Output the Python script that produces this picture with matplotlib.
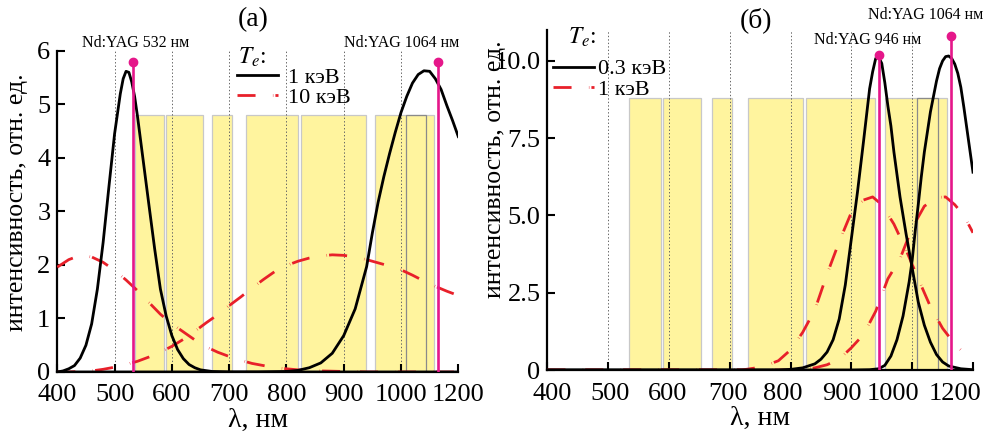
import numpy as np
import matplotlib
matplotlib.use('Agg')
import matplotlib.pyplot as plt

plt.rcParams['font.family'] = 'Liberation Serif'
plt.rcParams['mathtext.fontset'] = 'stix'
plt.rcParams['lines.scale_dashes'] = False

# --- данные ---
# (а): 1 кэВ, лазер 532 нм
a_wl_1k_532 = [400, 410, 420, 430, 440, 450, 460, 470, 480, 490, 500, 510, 515, 520, 525, 530, 535, 540,
               550, 560, 570, 580, 590, 600, 610, 620, 630, 640, 650, 670, 700, 1100]
a_I_1k_532 = [0, 0.02, 0.06, 0.12, 0.26, 0.5, 0.9, 1.55, 2.42, 3.45, 4.45, 5.2, 5.48, 5.62, 5.6, 5.42, 5.15, 4.78,
              3.95, 3.12, 2.3, 1.55, 1.05, 0.68, 0.42, 0.25, 0.14, 0.08, 0.04, 0.01, 0, 0]
# (а): 1 кэВ, лазер 1064 нм
a_wl_1k_1064 = [400, 750, 800, 820, 840, 860, 880, 900, 920, 940, 950, 960, 970, 980, 990, 1000,
                1010, 1020, 1030, 1040, 1050, 1060, 1070, 1080, 1090, 1100]
a_I_1k_1064 = [0, 0, 0.01, 0.03, 0.08, 0.17, 0.35, 0.68, 1.18, 1.97, 2.6, 3.17, 3.65, 4.08, 4.48, 4.85,
               5.15, 5.4, 5.56, 5.63, 5.62, 5.48, 5.28, 4.98, 4.7, 4.4]
# (а): 10 кэВ
a_wl_10k = [400, 420, 440, 460, 480, 500, 520, 540, 560, 580, 600, 620, 640, 660, 680, 700, 720, 740,
            760, 780, 800, 820, 840, 860, 880, 900, 920, 940, 960, 980, 1000, 1020, 1040, 1060, 1080, 1100]
a_I_10k_532 = [1.96, 2.1, 2.18, 2.15, 2.05, 1.9, 1.72, 1.52, 1.3, 1.08, 0.9, 0.75, 0.6, 0.47, 0.37, 0.29, 0.22, 0.16,
               0.12, 0.08, 0.06, 0.04, 0.03, 0.02, 0.015, 0.01, 0.005, 0, 0, 0, 0, 0, 0, 0, 0, 0]
a_I_10k_1064 = [0, 0, 0.01, 0.02, 0.05, 0.09, 0.14, 0.2, 0.28, 0.37, 0.48, 0.61, 0.76, 0.92, 1.07, 1.24, 1.4, 1.57,
                1.73, 1.88, 1.99, 2.07, 2.13, 2.17, 2.19, 2.18, 2.15, 2.1, 2.04, 1.98, 1.91, 1.81, 1.7, 1.6, 1.51, 1.43]

# (б): 0.3 кэВ, лазер 946 нм
b_wl_03k_946 = [400, 780, 800, 820, 840, 850, 860, 870, 880, 890, 900, 910, 920, 930, 935, 940, 945, 950,
                955, 960, 965, 970, 980, 990, 1000, 1010, 1020, 1030, 1040, 1050, 1060, 1080, 1100]
b_I_03k_946 = [0, 0, 0.02, 0.07, 0.2, 0.35, 0.58, 0.98, 1.65, 2.75, 4.25, 5.75, 7.4, 9.1, 9.65, 10.08, 10.12, 9.92,
               9.3, 8.55, 7.9, 7.05, 5.6, 4.4, 3.3, 2.2, 1.45, 0.9, 0.5, 0.26, 0.13, 0.04, 0.01]
# (б): 0.3 кэВ, лазер 1064 нм
b_wl_03k_1064 = [400, 900, 930, 945, 955, 965, 975, 985, 995, 1000, 1005, 1010, 1015, 1020, 1025, 1030,
                 1035, 1040, 1045, 1050, 1055, 1060, 1065, 1070, 1075, 1080, 1085, 1090, 1095, 1100]
b_I_03k_1064 = [0, 0, 0.01, 0.04, 0.15, 0.45, 0.98, 1.75, 2.85, 3.55, 4.5, 5.35, 6.25, 7.05, 7.7, 8.35,
                8.85, 9.35, 9.75, 10.0, 10.14, 10.16, 10.08, 9.9, 9.6, 9.15, 8.5, 7.8, 7.1, 6.4]
# (б): 1 кэВ
b_wl_1k_946 = [400, 720, 740, 760, 780, 800, 820, 840, 860, 880, 900, 920, 935, 950, 970, 990, 1010, 1030,
               1050, 1070, 1080]
b_I_1k_946 = [0, 0, 0.06, 0.15, 0.3, 0.65, 1.22, 1.95, 3.1, 4.15, 5.1, 5.5, 5.6, 5.35, 4.72, 3.88, 2.95, 2.05,
              1.35, 0.84, 0.65]
b_wl_1k_1064 = [400, 800, 820, 840, 860, 880, 900, 920, 940, 960, 980, 1000, 1020, 1040, 1055, 1070, 1085, 1100]
b_I_1k_1064 = [0, 0, 0.02, 0.07, 0.17, 0.35, 0.72, 1.15, 1.9, 2.95, 3.6, 4.6, 5.3, 5.58, 5.6, 5.35, 5.0, 4.44]

# полосы фильтров (нм)
band_lo = [535, 590, 670.5, 730, 826, 955]
band_hi = [587, 653.5, 704.5, 821, 939.5, 1057]
band_dark_lo = [1008]
band_dark_hi = [1043]

# лазерные линии
a_laser_nm = [532, 1064]
a_laser_top = [5.8, 5.8]
b_laser_nm = [946, 1064]
b_laser_top = [10.2, 10.8]

grid_nm = [500, 600, 700, 800, 900, 1000]
xticks_nm = [400, 500, 600, 700, 800, 900, 1000, 1100]
xtick_lab = ['400', '500', '600', '700', '800', '900', '1000', '1200']
b_xlab_pos = [407.7, 503, 598.4, 697, 787.5, 884.5, 968.4, 1070]

yellow = '#fff49e'
pink = '#e5178a'
red = '#e8202a'
red_ls = (0, (13, 12.5, 0.3, 1.5))


def oformit(ax, ymax):
    ax.set_xlim(400, 1100)
    ax.set_ylim(0, ymax)
    for s in ['top', 'right']:
        ax.spines[s].set_visible(False)
    for s in ['left', 'bottom']:
        ax.spines[s].set_linewidth(1.6)
    ax.tick_params(direction='in', length=6, width=1.5, labelsize=19, pad=5)
    ax.tick_params(axis='x', pad=9)
    for lo, hi in zip(band_lo, band_hi):
        ax.axvspan(lo, hi, ymin=0, ymax=0.8, facecolor=yellow, edgecolor='#c8c8c8', lw=0.9, zorder=1)
    for lo, hi in zip(band_dark_lo, band_dark_hi):
        ax.axvspan(lo, hi, ymin=0, ymax=0.8, facecolor='none', edgecolor='#8a8a8a', lw=0.9, zorder=1.1)
    for g in grid_nm:
        ax.axvline(g, color='#666666', lw=0.7, ls=(0, (1, 1.5)), zorder=1.5)
    ax.set_xlabel('λ, нм', fontsize=20, labelpad=1)
    ax.set_ylabel('интенсивность, отн. ед.', fontsize=18.5)


fig = plt.figure(figsize=(9.86, 4.32), dpi=100)
ax1 = fig.add_axes([0.0581, 0.1389, 0.4067, 0.7431])
ax2 = fig.add_axes([0.5551, 0.1435, 0.4317, 0.787])

# ---- (а)
oformit(ax1, 6)
ax1.set_xticks(xticks_nm, xtick_lab)
ax1.set_yticks([0, 1, 2, 3, 4, 5, 6])
l1, = ax1.plot(a_wl_1k_532, a_I_1k_532, color='k', lw=2, zorder=4, label='1 кэВ')
ax1.plot(a_wl_1k_1064, a_I_1k_1064, color='k', lw=2, zorder=4)
l2, = ax1.plot(a_wl_10k, a_I_10k_532, color=red, lw=2, ls=red_ls, zorder=3, label='10 кэВ')
ax1.plot(a_wl_10k, a_I_10k_1064, color=red, lw=2, ls=red_ls, zorder=3)
ax1.vlines(a_laser_nm, 0, a_laser_top, color=pink, lw=1.9, zorder=5)
ax1.plot(a_laser_nm, a_laser_top, 'o', color=pink, ms=6, zorder=5)
ax1.legend(handles=[l1, l2], loc='upper left', bbox_to_anchor=(0.447, 0.95), frameon=False,
           fontsize=16, handlelength=1.85, handletextpad=0.45, labelspacing=0.0, borderpad=0,
           borderaxespad=0)
ax1.yaxis.set_label_coords(-0.072, 0.53)

# ---- (б)
oformit(ax2, 11)
ax2.set_xticks(xticks_nm, [])
ax2.set_xticks(b_xlab_pos, xtick_lab, minor=True)
ax2.tick_params(axis='x', which='minor', length=0, labelsize=19, pad=9)
ax2.set_yticks([0, 2.5, 5, 7.5, 10], ['0', '2.5', '5.0', '7.5', '10.0'])
m1, = ax2.plot(b_wl_03k_946, b_I_03k_946, color='k', lw=2, zorder=4, label='0.3 кэВ')
ax2.plot(b_wl_03k_1064, b_I_03k_1064, color='k', lw=2, zorder=4)
m2, = ax2.plot(b_wl_1k_946, b_I_1k_946, color=red, lw=2, ls=red_ls, zorder=3, label='1 кэВ')
ax2.plot(b_wl_1k_1064, b_I_1k_1064, color=red, lw=2, ls=red_ls, zorder=3)
ax2.vlines(b_laser_nm, 0, b_laser_top, color=pink, lw=1.9, zorder=5)
ax2.plot(b_laser_nm, b_laser_top, 'o', color=pink, ms=6, zorder=5)
ax2.legend(handles=[m1, m2], loc='upper left', bbox_to_anchor=(0.014, 0.915), frameon=False,
           fontsize=16, handlelength=1.85, handletextpad=0.15, labelspacing=0.0, borderpad=0,
           borderaxespad=0)
ax2.yaxis.set_label_coords(-0.098, 0.59)

# подписи
W, H = 986, 432
fig.text(253 / W, 1 - 20 / H, '(a)', fontsize=20, ha='center', va='center')
fig.text(756 / W, 1 - 20 / H, '(б)', fontsize=20, ha='center', va='center')
fig.text(136 / W, 1 - 43 / H, 'Nd:YAG 532 нм', fontsize=11.5, ha='center', va='center')
fig.text(402 / W, 1 - 43 / H, 'Nd:YAG 1064 нм', fontsize=11.5, ha='center', va='center')
fig.text(868 / W, 1 - 40 / H, 'Nd:YAG 946 нм', fontsize=11.5, ha='center', va='center')
fig.text(926 / W, 1 - 15 / H, 'Nd:YAG 1064 нм', fontsize=11.5, ha='center', va='center')
fig.text(252 / W, 1 - 64 / H, '$T_e$:', fontsize=17, ha='center', va='baseline')
fig.text(582 / W, 1 - 44 / H, '$T_e$:', fontsize=17, ha='center', va='baseline')

fig.savefig('out.png', dpi=100)
